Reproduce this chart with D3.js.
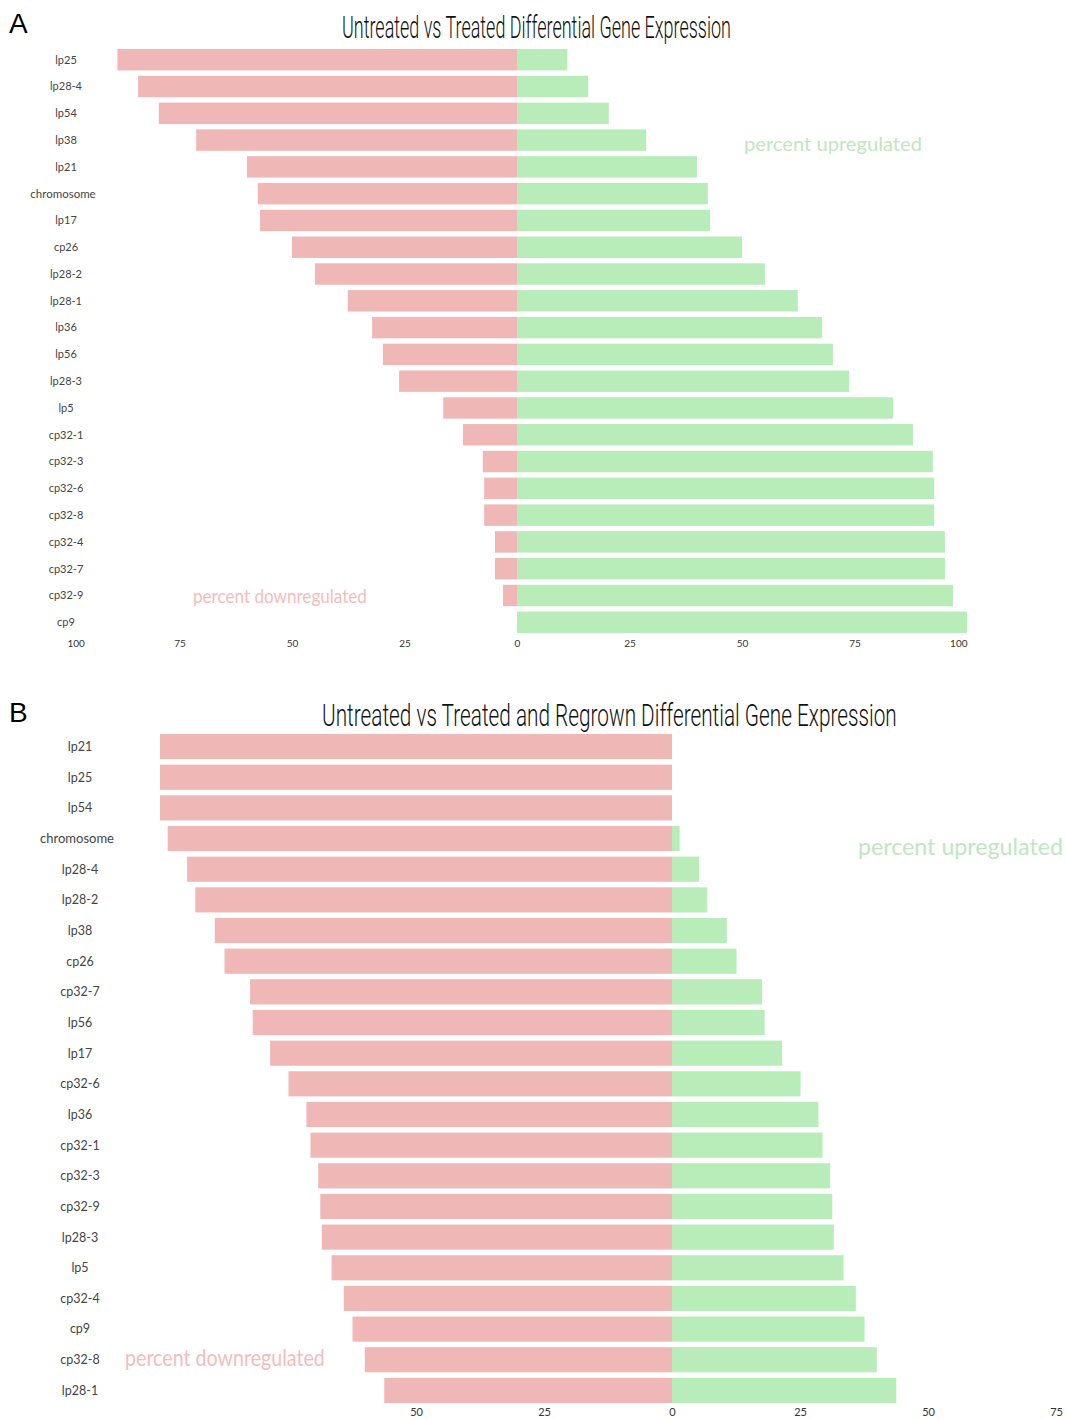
<!DOCTYPE html>
<html>
<head>
<meta charset="utf-8">
<script src="https://cdn.jsdelivr.net/npm/d3@7"></script>
<style>
  html, body { margin: 0; padding: 0; background: #fff; }
  svg { display: block; }
</style>
</head>
<body>
<svg id="chart" width="1066" height="1420"></svg>
<script>
// ---------- Panel A data ----------
const categoriesA = ["lp25","lp28-4","lp54","lp38","lp21","chromosome","lp17","cp26","lp28-2","lp28-1",
  "lp36","lp56","lp28-3","lp5","cp32-1","cp32-3","cp32-6","cp32-8","cp32-4","cp32-7","cp32-9","cp9"];
const downA = [88.8,84.2,79.6,71.3,60.0,57.6,57.1,50.0,44.9,37.6,32.2,29.8,26.2,16.4,12.0,7.6,7.3,7.3,4.9,4.9,3.1,0];
const upA   = [11.2,15.8,20.4,28.7,40.0,42.4,42.9,50.0,55.1,62.4,67.8,70.2,73.8,83.6,88.0,92.4,92.7,92.7,95.1,95.1,96.9,100];
const ticksA = [-100,-75,-50,-25,0,25,50,75,100];
const titleA = "Untreated vs Treated Differential Gene Expression";

// ---------- Panel B data ----------
const categoriesB = ["lp21","lp25","lp54","chromosome","lp28-4","lp28-2","lp38","cp26","cp32-7","lp56","lp17",
  "cp32-6","lp36","cp32-1","cp32-3","cp32-9","lp28-3","lp5","cp32-4","cp9","cp32-8","lp28-1"];
const downB = [100,100,100,98.5,94.7,93.1,89.3,87.4,82.4,81.9,78.5,74.9,71.4,70.6,69.1,68.7,68.4,66.5,64.1,62.4,60.0,56.2];
const upB   = [0,0,0,1.5,5.3,6.9,10.7,12.6,17.6,18.1,21.5,25.1,28.6,29.4,30.9,31.3,31.6,33.5,35.9,37.6,40.0,43.8];
const ticksB = [-50,-25,0,25,50,75];
const titleB = "Untreated vs Treated and Regrown Differential Gene Expression";

const upLabel = "percent upregulated";
const downLabel = "percent downregulated";

const RED = "#efb8b7", GREEN = "#b8ecb9";
const svg = d3.select("#chart");

// place a text so that it starts at x0 with baseline y0 and spans exactly width w (horizontal scaling)
function fitText(g, str, x0, y0, w, attrs) {
  const t = g.append("text").attr("x", 0).attr("y", 0);
  Object.entries(attrs).forEach(([k, v]) => t.attr(k, v));
  t.text(str);
  const natural = t.node().getComputedTextLength() || w;
  const s = w / natural;
  t.attr("transform", `translate(${x0},${y0}) scale(${s},1)`);
  return t;
}

function panel(cfg) {
  const g = svg.append("g");
  const x = d3.scaleLinear().domain(cfg.xDomain).range(cfg.xRange);
  const y = d3.scaleBand().domain(cfg.cats).range(cfg.yRange).paddingInner(cfg.pad).paddingOuter(0);
  const rows = cfg.cats.map((c, i) => ({c, down: cfg.down[i], up: cfg.up[i]}));

  g.selectAll("rect.down").data(rows).join("rect")
    .attr("class","down")
    .attr("x", d => x(-d.down)).attr("y", d => y(d.c))
    .attr("width", d => x(0) - x(-d.down)).attr("height", y.bandwidth())
    .attr("fill", RED);
  g.selectAll("rect.up").data(rows).join("rect")
    .attr("class","up")
    .attr("x", x(0)).attr("y", d => y(d.c))
    .attr("width", d => x(d.up) - x(0)).attr("height", y.bandwidth())
    .attr("fill", GREEN);

  // category labels
  g.selectAll("text.cat").data(rows).join("text")
    .attr("class","cat")
    .attr("x", d => d.c === "chromosome" ? cfg.labelX - 3 : cfg.labelX)
    .attr("y", d => y(d.c) + y.bandwidth()/2)
    .attr("dy","0.35em").attr("text-anchor","middle")
    .attr("font-family","Lato, 'Noto Sans', sans-serif")
    .attr("font-size", d => d.c === "chromosome" ? cfg.labelSize + 0.5 : cfg.labelSize)
    .attr("fill","#444")
    .text(d => d.c);

  // x axis (labels only)
  const axis = d3.axisBottom(x).tickValues(cfg.ticks).tickSize(0).tickPadding(0)
    .tickFormat(d => Math.abs(d));
  const ag = g.append("g").attr("transform", `translate(0,${cfg.axisY})`).call(axis);
  ag.select(".domain").remove();
  ag.selectAll("text").attr("font-family","Lato, 'Noto Sans', sans-serif")
    .attr("font-size", cfg.tickSize).attr("fill","#333");
  if (cfg.edgeAnchor) {
    const n = cfg.ticks.length;
    ag.selectAll("text").attr("text-anchor", (d,i) => i === 0 ? "start" : (i === n-1 ? "end" : "middle"));
  }

  // title
  fitText(g, cfg.title, cfg.titleX, cfg.titleY, cfg.titleLen, {
    "font-family": "Roboto, 'Open Sans', sans-serif", "font-weight": 300,
    "font-size": 31, "fill": "#111"
  });

  // panel letter
  g.append("text").attr("x", 9).attr("y", cfg.letterY)
    .attr("font-family","'Liberation Sans', Arial, sans-serif").attr("font-size", 28).attr("fill","#000")
    .text(cfg.letter);

  // annotations
  fitText(g, upLabel, cfg.upX, cfg.upY, cfg.upLen, {
    "font-family": "Lato, 'Noto Sans', sans-serif", "font-size": cfg.annSize, "fill": "#bfe6bf"
  });
  fitText(g, downLabel, cfg.downX, cfg.downY, cfg.downLen, {
    "font-family": "Lato, 'Noto Sans', sans-serif", "font-size": cfg.annSize, "fill": "#f4bcbc"
  });
}

panel({
  cats: categoriesA, down: downA, up: upA, ticks: ticksA, title: titleA, letter: "A",
  xDomain: [-100, 100], xRange: [67, 967], yRange: [49, 633], pad: 0.2,
  labelX: 66, labelSize: 11, axisY: 640, tickSize: 10, edgeAnchor: true,
  titleX: 342, titleY: 38, titleLen: 389, letterY: 33,
  upX: 744, upY: 151, upLen: 178, downX: 193, downY: 603, downLen: 174, annSize: 19
});

panel({
  cats: categoriesB, down: downB, up: upB, ticks: ticksB, title: titleB, letter: "B",
  xDomain: [-100, 75], xRange: [160, 1056], yRange: [734, 1403], pad: 0.18,
  labelX: 80, labelSize: 12.5, axisY: 1408, tickSize: 11, edgeAnchor: false,
  titleX: 322, titleY: 726, titleLen: 575, letterY: 722,
  upX: 858, upY: 855, upLen: 205, downX: 125, downY: 1366, downLen: 200, annSize: 23
});
</script>
</body>
</html>
